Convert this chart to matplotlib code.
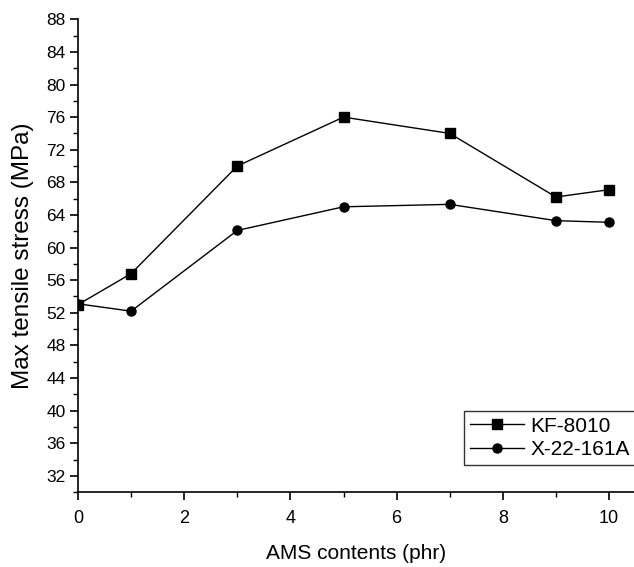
import matplotlib
matplotlib.use('Agg')
import matplotlib.pyplot as plt
from matplotlib.ticker import MultipleLocator

plt.rcParams['font.family'] = ['Liberation Sans', 'DejaVu Sans']

# data
ams = [0, 1, 3, 5, 7, 9, 10]
kf8010 = [53.0, 56.8, 70.0, 76.0, 74.0, 66.2, 67.1]
x22 = [53.1, 52.2, 62.1, 65.0, 65.3, 63.3, 63.1]

fig = plt.figure(figsize=(6.34, 5.67), dpi=100)
ax = fig.add_axes([0.123, 0.132, 0.877, 0.834])

ax.plot(ams, kf8010, color='black', lw=1.0, marker='s', ms=7, label='KF-8010')
ax.plot(ams, x22, color='black', lw=1.0, marker='o', ms=6.5, label='X-22-161A')

ax.set_xlim(0, 10.47)
ax.set_ylim(30, 88)
ax.xaxis.set_major_locator(MultipleLocator(2))
ax.xaxis.set_minor_locator(MultipleLocator(1))
ax.yaxis.set_major_locator(MultipleLocator(4))
ax.yaxis.set_minor_locator(MultipleLocator(2))
ax.set_yticks(range(32, 89, 4))

ax.spines['top'].set_visible(False)
ax.spines['right'].set_visible(False)
for s in ['left', 'bottom']:
    ax.spines[s].set_linewidth(1.2)
ax.tick_params(which='major', direction='out', length=6, width=1.2)
ax.tick_params(which='minor', direction='out', length=3.5, width=1.0)
ax.tick_params(axis='y', labelsize=12.5, pad=3)
ax.tick_params(axis='x', labelsize=13, pad=7)

ax.set_xlabel('AMS contents (phr)', fontsize=15, labelpad=12)
ax.set_ylabel('Max tensile stress (MPa)', fontsize=17.5, labelpad=9)

leg = ax.legend(loc='lower right', bbox_to_anchor=(1.004, 0.057), fontsize=15,
                frameon=True, fancybox=False, edgecolor='black',
                handlelength=2.6, borderpad=0.3, labelspacing=0.2,
                handletextpad=0.3, borderaxespad=0)
leg.get_frame().set_linewidth(1.0)

fig.savefig('out.png', dpi=100)
